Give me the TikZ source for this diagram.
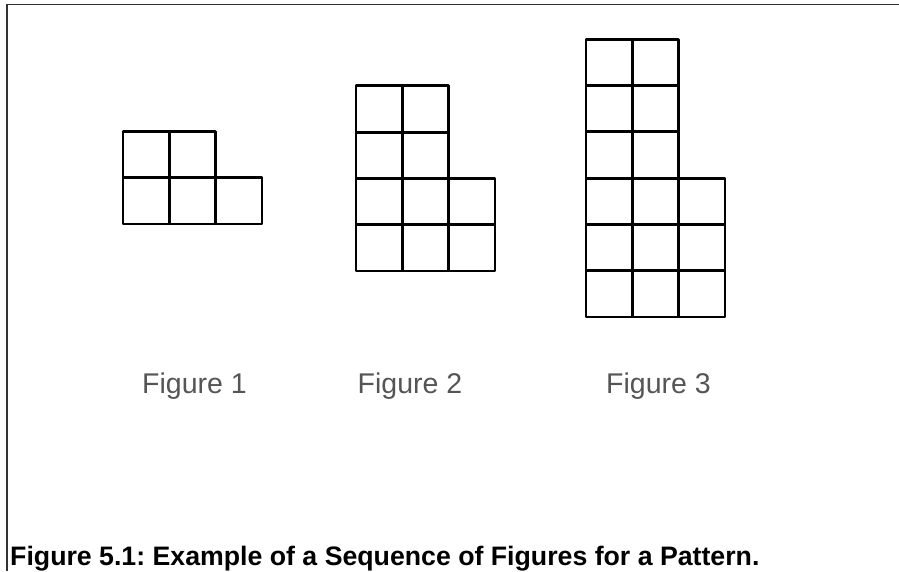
\documentclass[tikz,border=0pt]{standalone}
\usepackage{fontspec}
\setmainfont{Liberation Sans}
\usepackage{xcolor}
\usepackage{tikz}
\definecolor{framegray}{RGB}{50,50,50}
\definecolor{labelgray}{RGB}{85,85,85}
\frenchspacing

\begin{document}
\begin{tikzpicture}[
    x=1pt, y=-1pt,
    cell/.style={draw=black, line width=2.8pt, line join=round},
    frame/.style={draw=framegray, line width=1.8pt},
    figlabel/.style={anchor=base, inner sep=0pt, text=labelgray, font=\fontsize{28.5}{30}\selectfont},
    caption/.style={anchor=base west, inner sep=0pt, font=\fontsize{26.7}{28}\selectfont\bfseries}
]
\useasboundingbox (0,0) rectangle (899,571);

% outer frame (top and left only)
\coordinate (tl) at (7,4.5);
\coordinate (tr) at (899,4.5);
\coordinate (bl) at (7,571);
\draw[frame] (tr) -- (tl) -- (bl);

% the three figures: origin (bottom left), height of tall columns
\def\cs{46.3}
\foreach \ox/\oy/\n in {123/224/1, 356/271/2, 586/317/3}{
    \pgfmathtruncatemacro{\tall}{2*\n-1}
    \pgfmathtruncatemacro{\short}{\n-1}
    \foreach \c in {0,1}
        \foreach \r in {0,...,\tall}
            \draw[cell] (\ox+\c*\cs, \oy-\r*\cs) rectangle ++(\cs,-\cs);
    \foreach \r in {0,...,\short}
        \draw[cell] (\ox+2*\cs, \oy-\r*\cs) rectangle ++(\cs,-\cs);
}

\node[figlabel] (lab1) at (194.5,393) {Figure 1};
\node[figlabel] (lab2) at (410,393) {Figure 2};
\node[figlabel] (lab3) at (658.5,393) {Figure 3};

\node[caption] (cap) at (10,565) {Figure 5.1: Example of a Sequence of Figures for a Pattern.};

\end{tikzpicture}
\end{document}
